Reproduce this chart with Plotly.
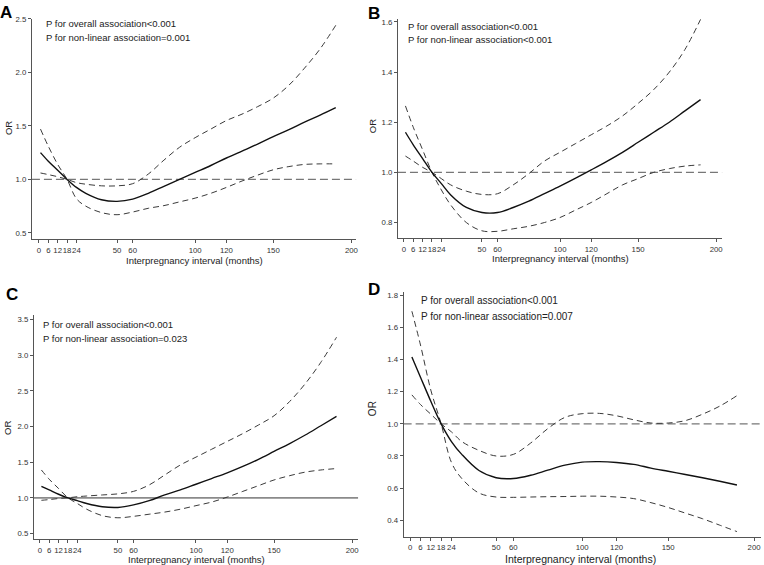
import plotly.graph_objects as go

W, H = 764, 565

# ---------------- data ----------------
months = [1, 6, 12, 18, 24, 30, 40, 50, 60, 70, 80, 90, 100, 110, 120, 130, 140, 150, 160, 170, 180, 190]

or_A = [1.25, 1.17, 1.085, 1.0, 0.925, 0.87, 0.81, 0.795, 0.815, 0.87, 0.935, 1.0, 1.065, 1.13, 1.2, 1.265, 1.33, 1.40, 1.465, 1.535, 1.60, 1.67]
hi_A = [1.06, 1.045, 1.025, 1.0, 0.97, 0.955, 0.94, 0.94, 0.96, 1.05, 1.18, 1.30, 1.39, 1.47, 1.55, 1.61, 1.68, 1.76, 1.88, 2.04, 2.22, 2.44]
lo_A = [1.47, 1.31, 1.14, 1.0, 0.82, 0.75, 0.69, 0.67, 0.695, 0.73, 0.755, 0.79, 0.825, 0.87, 0.925, 0.985, 1.04, 1.09, 1.12, 1.14, 1.145, 1.145]

or_B = [1.16, 1.11, 1.055, 1.0, 0.955, 0.91, 0.86, 0.84, 0.84, 0.86, 0.885, 0.915, 0.945, 0.977, 1.01, 1.044, 1.08, 1.12, 1.16, 1.20, 1.245, 1.29]
hi_B = [1.065, 1.045, 1.02, 1.0, 0.975, 0.95, 0.925, 0.912, 0.915, 0.95, 0.995, 1.045, 1.08, 1.115, 1.15, 1.185, 1.225, 1.275, 1.33, 1.40, 1.49, 1.61]
lo_B = [1.265, 1.18, 1.09, 1.0, 0.93, 0.87, 0.80, 0.767, 0.765, 0.775, 0.785, 0.80, 0.82, 0.85, 0.88, 0.915, 0.95, 0.975, 1.0, 1.015, 1.025, 1.03]

or_C = [1.16, 1.11, 1.05, 1.0, 0.96, 0.92, 0.875, 0.865, 0.90, 0.96, 1.04, 1.11, 1.19, 1.27, 1.35, 1.44, 1.54, 1.65, 1.76, 1.88, 2.01, 2.14]
hi_C = [0.965, 0.975, 0.99, 1.0, 1.015, 1.025, 1.04, 1.055, 1.09, 1.18, 1.32, 1.46, 1.57, 1.68, 1.79, 1.90, 2.02, 2.15, 2.35, 2.60, 2.90, 3.25]
lo_C = [1.39, 1.26, 1.13, 1.0, 0.92, 0.84, 0.75, 0.72, 0.74, 0.77, 0.80, 0.84, 0.89, 0.94, 1.01, 1.09, 1.17, 1.25, 1.31, 1.36, 1.39, 1.41]

or_D = [1.415, 1.29, 1.14, 1.0, 0.89, 0.81, 0.71, 0.665, 0.66, 0.68, 0.712, 0.743, 0.762, 0.765, 0.76, 0.748, 0.725, 0.705, 0.685, 0.665, 0.643, 0.62]
hi_D = [1.18, 1.12, 1.06, 1.0, 0.95, 0.89, 0.835, 0.80, 0.81, 0.88, 0.97, 1.04, 1.063, 1.065, 1.05, 1.025, 1.005, 1.005, 1.02, 1.06, 1.11, 1.175]
lo_D = [1.70, 1.49, 1.21, 1.0, 0.76, 0.66, 0.57, 0.545, 0.543, 0.545, 0.547, 0.548, 0.55, 0.55, 0.545, 0.535, 0.51, 0.48, 0.445, 0.41, 0.37, 0.33]

x_ticks = [0, 6, 12, 18, 24, 50, 60, 100, 120, 150, 200]
y_ticks_A = [0.5, 1.0, 1.5, 2.0, 2.5]
y_ticks_B = [0.8, 1.0, 1.2, 1.4, 1.6]
y_ticks_C = [0.5, 1.0, 1.5, 2.0, 2.5, 3.0, 3.5]
y_ticks_D = [0.4, 0.6, 0.8, 1.0, 1.2, 1.4, 1.6, 1.8]

p_texts = {
    "A": ["P for overall association<0.001", "P for non-linear association=0.001"],
    "B": ["P for overall association<0.001", "P for non-linear association<0.001"],
    "C": ["P for overall association<0.001", "P for non-linear association=0.023"],
    "D": ["P for overall association<0.001", "P for non-linear association=0.007"],
}
x_title = "Interpregnancy interval (months)"
y_title = "OR"

FONT = "Liberation Sans, Arial, sans-serif"

def px(x):
    return x / W

def py(y):
    return 1 - y / H

panels = [
    dict(name="A", s=(or_A, hi_A, lo_A), yt=y_ticks_A, xp=(32, 357), yp=(15, 237),
         xr=[-4.5, 203], yr=[0.44, 2.5], ref_solid=False,
         letter=(6.5, 9), ptxt=(44, 20, 34), ortl=(8, 125), xt=(195, 258), fs=9.5),
    dict(name="B", s=(or_B, hi_B, lo_B), yt=y_ticks_B, xp=(399, 724), yp=(15, 236),
         xr=[-3.8, 203.8], yr=[0.737, 1.612], ref_solid=False,
         letter=(375, 10), ptxt=(407, 23, 36), ortl=(373, 123), xt=(562, 256), fs=9.5),
    dict(name="C", s=(or_C, hi_C, lo_C), yt=y_ticks_C, xp=(34, 359), yp=(313, 539),
         xr=[-3.8, 203.8], yr=[0.42, 3.565], ref_solid=True,
         letter=(12.5, 293), ptxt=(41, 323, 337), ortl=(8, 427), xt=(197, 559.6), fs=9.5),
    dict(name="D", s=(or_D, hi_D, lo_D), yt=y_ticks_D, xp=(404.7, 763), yp=(290, 536.7),
         xr=[-3.8, 204], yr=[0.297, 1.82], ref_solid=False,
         letter=(375, 288), ptxt=(420, 299, 315), ortl=(373, 408), xt=(582, 558.5), fs=10),
]

fig = go.Figure()
annotations = []
shapes = []
layout = {}

for i, p in enumerate(panels, start=1):
    sfx = "" if i == 1 else str(i)
    xa, ya = "x" + sfx, "y" + sfx
    mid, hi, lo = p["s"]
    for ys, dash, col, wdt in ((hi, "6px,4px", "#3a3a3a", 1.0),
                               (lo, "6px,4px", "#3a3a3a", 1.0),
                               (mid, "solid", "#111111", 1.4)):
        fig.add_trace(go.Scatter(x=months, y=ys, mode="lines", xaxis=xa, yaxis=ya,
                                 line=dict(color=col, width=wdt, dash=dash, shape="spline", smoothing=1.0),
                                 showlegend=False, hoverinfo="skip"))
    ax_common = dict(showline=True, linecolor="#555555", linewidth=1, ticks="outside",
                     ticklen=3, tickcolor="#555555", tickwidth=1, showgrid=False, zeroline=False,
                     tickfont=dict(family=FONT, size=7.8, color="#333333"))
    layout["xaxis" + sfx] = dict(domain=[px(p["xp"][0]), px(p["xp"][1])], range=p["xr"],
                                 anchor=ya, tickmode="array", tickvals=x_ticks,
                                 ticktext=[str(v) for v in x_ticks], tickangle=0, **ax_common)
    layout["yaxis" + sfx] = dict(domain=[py(p["yp"][1]), py(p["yp"][0])], range=p["yr"],
                                 anchor=xa, tickmode="array", tickvals=p["yt"],
                                 ticktext=["%.1f" % v for v in p["yt"]], **ax_common)
    if p["ref_solid"]:
        shapes.append(dict(type="line", xref=xa + " domain", yref=ya, x0=0, x1=1, y0=1, y1=1,
                           line=dict(color="#8a8a8a", width=1.8, dash="solid"), layer="below"))
    else:
        shapes.append(dict(type="line", xref=xa + " domain", yref=ya, x0=0, x1=1, y0=1, y1=1,
                           line=dict(color="#777777", width=1.4, dash="8px,4px"), layer="below"))
    lx, ly = p["letter"]
    annotations.append(dict(text="<b>%s</b>" % p["name"], x=px(lx), y=py(ly), xref="paper", yref="paper",
                            xanchor="center", yanchor="middle", showarrow=False,
                            font=dict(family=FONT, size=17, color="#000000")))
    tx, ty1, ty2 = p["ptxt"]
    for t, ty in zip(p_texts[p["name"]], (ty1, ty2)):
        annotations.append(dict(text=t, x=px(tx), y=py(ty), xref="paper", yref="paper",
                                xanchor="left", yanchor="middle", showarrow=False,
                                font=dict(family=FONT, size=p["fs"], color="#222222")))
    ox, oy = p["ortl"]
    annotations.append(dict(text=y_title, x=px(ox), y=py(oy), xref="paper", yref="paper",
                            xanchor="center", yanchor="middle", showarrow=False, textangle=-90,
                            font=dict(family=FONT, size=p["fs"], color="#222222")))
    xx, xy = p["xt"]
    annotations.append(dict(text=x_title, x=px(xx), y=py(xy), xref="paper", yref="paper",
                            xanchor="center", yanchor="middle", showarrow=False,
                            font=dict(family=FONT, size=p["fs"] + 0.5 if p["name"] == "D" else p["fs"],
                                      color="#222222")))

fig.update_layout(
    width=W, height=H, margin=dict(l=0, r=0, t=0, b=0),
    paper_bgcolor="white", plot_bgcolor="white",
    annotations=annotations, shapes=shapes, showlegend=False,
    **layout,
)

fig.write_html("out.html", config={"displayModeBar": False},
               post_script="document.body.style.margin='0';document.body.style.padding='0';"
                           "document.documentElement.style.overflow='hidden';")
